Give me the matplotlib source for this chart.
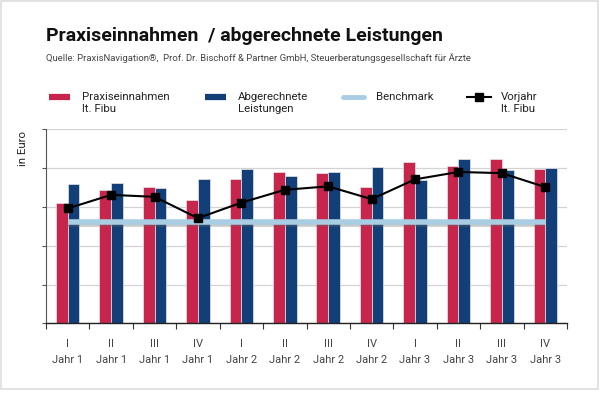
import numpy as np
import matplotlib.pyplot as plt
import matplotlib.patheffects as pe
from matplotlib.lines import Line2D
from matplotlib.patches import Rectangle

plt.rcParams['font.family'] = ['Roboto', 'DejaVu Sans']

# data (grid units 0..5)
quartale = ['I', 'II', 'III', 'IV'] * 3
jahre = ['Jahr 1'] * 4 + ['Jahr 2'] * 4 + ['Jahr 3'] * 4
einnahmen = [3.11, 3.43, 3.52, 3.19, 3.71, 3.90, 3.87, 3.51, 4.15, 4.06, 4.23, 3.98]
leistungen = [3.59, 3.62, 3.48, 3.73, 3.98, 3.80, 3.89, 4.03, 3.69, 4.23, 3.95, 4.01]
vorjahr = [2.96, 3.31, 3.26, 2.71, 3.11, 3.44, 3.53, 3.20, 3.71, 3.90, 3.87, 3.51]
benchmark = 2.60

RED = '#c8254c'
BLUE = '#123f78'
LIGHT = '#a9cde3'

fig = plt.figure(figsize=(6, 3.97), dpi=100)
W, H = 600, 397
ax = fig.add_axes([46 / W, 1 - 323.3 / H, 521 / W, 194 / H])

x = np.arange(len(quartale))
bw = 0.27
ax.bar(x - bw / 2, einnahmen, bw, color=RED, edgecolor='#e6e6e6', linewidth=0.5, zorder=2)
ax.bar(x + bw / 2, leistungen, bw, color=BLUE, edgecolor='#e6e6e6', linewidth=0.5, zorder=2)
ax.plot([x[0], x[-1]], [benchmark, benchmark], color=LIGHT, lw=4, solid_capstyle='butt', zorder=3,
        path_effects=[pe.SimpleLineShadow(offset=(0, -1), shadow_color='#666666', alpha=0.35), pe.Normal()])
ax.plot(x, vorjahr, color='black', lw=1.5, marker='s', markersize=5.5, zorder=4)

ax.set_xlim(-0.5, len(x) - 0.5)
ax.set_ylim(0, 5)
ax.set_yticks(range(6))
ax.set_yticklabels([])
ax.grid(axis='y', color='#d3d3d3', lw=0.9, zorder=0)
ax.set_axisbelow(True)
ax.tick_params(axis='y', length=3, color='#555555', width=0.8)

ax.set_xticks(np.arange(-0.5, len(x)), minor=False)
ax.set_xticklabels([])
ax.tick_params(axis='x', which='major', length=4, color='#333333', width=0.8)
ax.set_xticks(x, minor=True)
ax.set_xticklabels([q + '\n' + j for q, j in zip(quartale, jahre)], minor=True,
                   fontsize=8, color='#444444', linespacing=1.8)
ax.tick_params(axis='x', which='minor', length=0, pad=11)

for s in ['top', 'right']:
    ax.spines[s].set_visible(False)
ax.spines['left'].set_color('#555555')
ax.spines['left'].set_linewidth(0.8)
ax.spines['bottom'].set_color('#222222')
ax.spines['bottom'].set_linewidth(1.0)

fig.text(23 / W, 1 - 148 / H, 'in Euro', rotation=90, ha='center', va='center', fontsize=8.2, color='#222222')

# title and source
fig.text(46 / W, 1 - 36 / H, 'Praxiseinnahmen  / abgerechnete Leistungen', fontsize=14,
         fontweight='bold', ha='left', va='center', color='#111111')
fig.text(46 / W, 1 - 58.5 / H,
         'Quelle: PraxisNavigation®,  Prof. Dr. Bischoff & Partner GmbH, Steuerberatungsgesellschaft für Ärzte',
         fontsize=6.8, ha='left', va='center', color='#444444')

# legend
legend_items = [
    (49, 'bar', RED, 'Praxiseinnahmen\nlt. Fibu'),
    (205, 'bar', BLUE, 'Abgerechnete\nLeistungen'),
    (343, 'bench', LIGHT, 'Benchmark'),
    (468, 'line', 'black', 'Vorjahr\nlt. Fibu'),
]
ly = 1 - 97 / H
for lx, kind, col, label in legend_items:
    xs = [lx / W, (lx + 21) / W]
    if kind == 'bar':
        fig.add_artist(Line2D(xs, [ly, ly], color=col, lw=4.5, solid_capstyle='butt'))
    elif kind == 'bench':
        fig.add_artist(Line2D(xs, [ly, ly], color=col, lw=3.5, solid_capstyle='round'))
    else:
        fig.add_artist(Line2D([(lx - 1) / W, (lx + 23) / W], [ly, ly], color=col, lw=1.5))
        fig.add_artist(Line2D([(lx + 11) / W], [ly], color=col, marker='s', markersize=5.5))
    fig.text((lx + 33) / W, ly + 5 / H, label, fontsize=8.2, ha='left', va='top',
             color='#222222', linespacing=1.3)

# outer frame
fig.add_artist(Rectangle((1 / W, 1 - 389 / H), 597 / W, 388 / H, transform=fig.transFigure,
                         fill=False, edgecolor='#dddddd', lw=1.2))

fig.savefig('out.png', dpi=100)
